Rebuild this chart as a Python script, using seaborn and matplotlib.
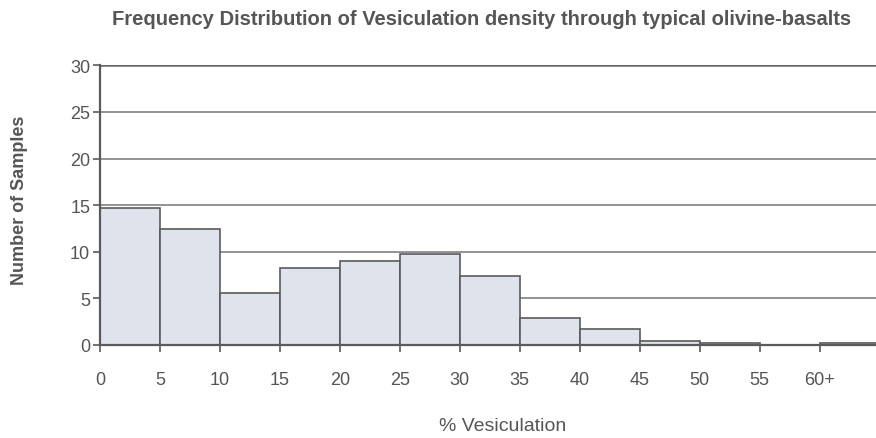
import matplotlib
matplotlib.use("Agg")
import matplotlib.pyplot as plt
import seaborn as sns
import numpy as np
import pandas as pd

# Vesiculation bins (% lower edge) and sample counts
bin_starts = [0, 5, 10, 15, 20, 25, 30, 35, 40, 45, 50, 55, 60]
counts = [14.7, 12.4, 5.6, 8.3, 9.0, 9.8, 7.4, 2.9, 1.7, 0.4, 0.2, 0.0, 0.2]
tick_labels = ["0", "5", "10", "15", "20", "25", "30", "35", "40", "45", "50", "55", "60+"]
y_ticks = [0, 5, 10, 15, 20, 25, 30]

sns.set_theme(style="white")
plt.rcParams["font.family"] = ["Liberation Sans", "DejaVu Sans"]

df = pd.DataFrame({"start": bin_starts, "count": counts})
edges = list(bin_starts) + [bin_starts[-1] + 5]

fig = plt.figure(figsize=(8.76, 4.39), dpi=100)
ax = fig.add_axes([0.114, 0.212, 0.886, 0.638])

for y in y_ticks[1:-1]:
    ax.axhline(y, color="#8a8a8a", lw=1.3, zorder=0)
ax.axhline(y_ticks[-1], color="#666666", lw=1.8, zorder=0)

sns.histplot(data=df, x="start", weights="count", bins=edges, ax=ax,
             color="#dfe4ec", edgecolor="#5a5a5a", linewidth=1.2, alpha=1.0,
             zorder=2)

ax.set_xlim(0, 64.7)
ax.set_ylim(0, 30.05)
ax.set_xticks(bin_starts)
ax.set_xticklabels(tick_labels)
ax.set_yticks(y_ticks)

for side in ["top", "right"]:
    ax.spines[side].set_visible(False)
for side in ["left", "bottom"]:
    ax.spines[side].set_color("#5a5a5a")
    ax.spines[side].set_linewidth(1.6)
    ax.spines[side].set_zorder(3)

ax.tick_params(axis="both", which="both", direction="out", length=5, width=1.2,
               color="#5a5a5a", labelcolor="#555555", labelsize=13)
ax.tick_params(axis="x", pad=14)
ax.tick_params(axis="y", pad=2)
ax.tick_params(bottom=True, left=True)

ax.set_xlabel("% Vesiculation", fontsize=14, color="#555555")
ax.xaxis.set_label_coords(0.519, -0.258)
ax.set_ylabel("Number of Samples", fontsize=13, color="#555555",
              fontweight="bold")
ax.yaxis.set_label_coords(-0.092, 0.52)
fig.suptitle("Frequency Distribution of Vesiculation density through typical olivine-basalts",
             x=0.55, y=0.978, fontsize=14.5, color="#555555", fontweight="bold")

fig.savefig("out.png", dpi=100, facecolor="white")
